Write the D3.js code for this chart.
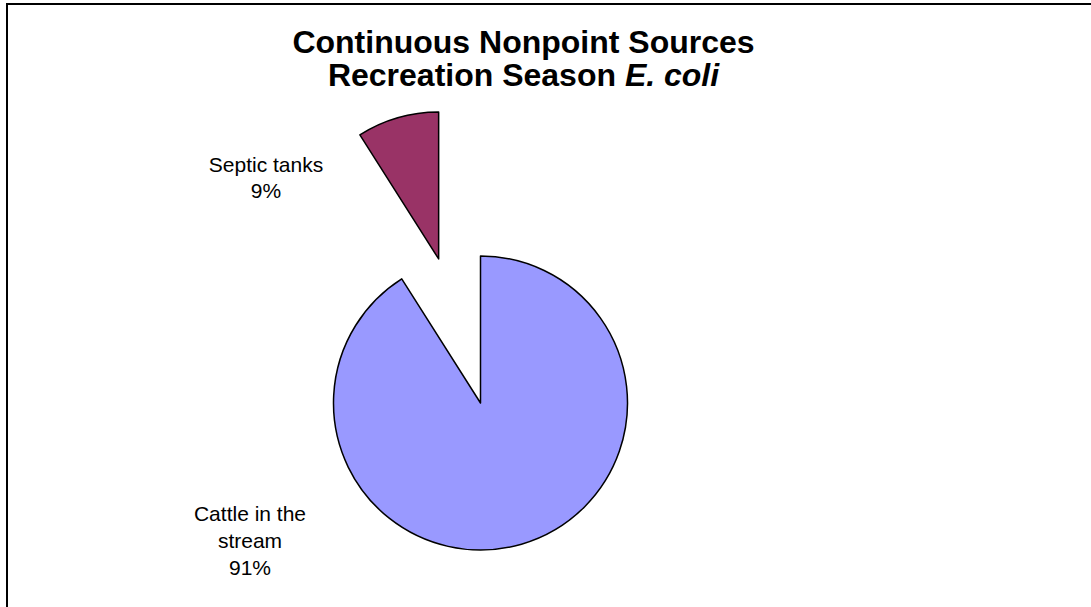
<!DOCTYPE html>
<html>
<head>
<meta charset="utf-8">
<script src="https://cdn.jsdelivr.net/npm/d3@7"></script>
<style>
  body { margin: 0; background: #fff; }
  svg { display: block; font-family: "Liberation Sans", Arial, sans-serif; }
</style>
</head>
<body>
<div class="chart"></div>
<script>
// chart size
const WIDTH = 1091;
const HEIGHT = 607;

// data
const categories = ["Cattle in the stream", "Septic tanks"];
const values = [91, 9];
const labelLines = [["Cattle in the", "stream", "91%"], ["Septic tanks", "9%"]];
const colors = ["#9999FF", "#993366"];
const explode = [0, 150];

const svg = d3
  .select(".chart")
  .append("svg")
  .attr("width", WIDTH)
  .attr("height", HEIGHT);

// chart area border (only top and left show in frame)
svg.append("rect")
  .attr("x", 7)
  .attr("y", 4)
  .attr("width", WIDTH + 20)
  .attr("height", HEIGHT + 20)
  .attr("fill", "none")
  .attr("stroke", "#000")
  .attr("stroke-width", 2);

// title
const title = svg.append("text")
  .attr("text-anchor", "middle")
  .attr("font-weight", "bold")
  .attr("font-size", 32)
  .attr("x", 523.5);
title.append("tspan").attr("x", 523.5).attr("y", 53).text("Continuous Nonpoint Sources");
const t2 = title.append("tspan").attr("x", 523.5).attr("y", 86);
t2.append("tspan").text("Recreation Season ");
t2.append("tspan").attr("font-style", "italic").text("E. coli");

const R = 147;
const cx = 480.5, cy = 403;

const pie = d3.pie().sort(null).value(d => d.value);
const arc = d3.arc().innerRadius(0).outerRadius(R);

const slices = pie(categories.map((c, i) => ({ name: c, value: values[i], i })));

const g = svg.append("g").attr("transform", `translate(${cx},${cy})`);

g.selectAll("path")
  .data(slices)
  .join("path")
  .attr("d", arc)
  .attr("transform", d => {
    const a = (d.startAngle + d.endAngle) / 2;
    const off = explode[d.data.i];
    return `translate(${off * Math.sin(a)},${-off * Math.cos(a)})`;
  })
  .attr("fill", d => colors[d.data.i])
  .attr("stroke", "#000")
  .attr("stroke-width", 1.5)
  .attr("stroke-linejoin", "round");

// label placement (chart layout, not data)
const labelAt = [[250, 521], [266, 172]];
const lineGap = [27, 26];

labelLines.forEach((lines, i) => {
  const t = svg.append("text")
    .attr("text-anchor", "middle")
    .attr("font-size", 21)
    .attr("fill", "#000");
  lines.forEach((s, j) => {
    t.append("tspan")
      .attr("x", labelAt[i][0])
      .attr("y", labelAt[i][1] + j * lineGap[i])
      .text(s);
  });
});
</script>
</body>
</html>
